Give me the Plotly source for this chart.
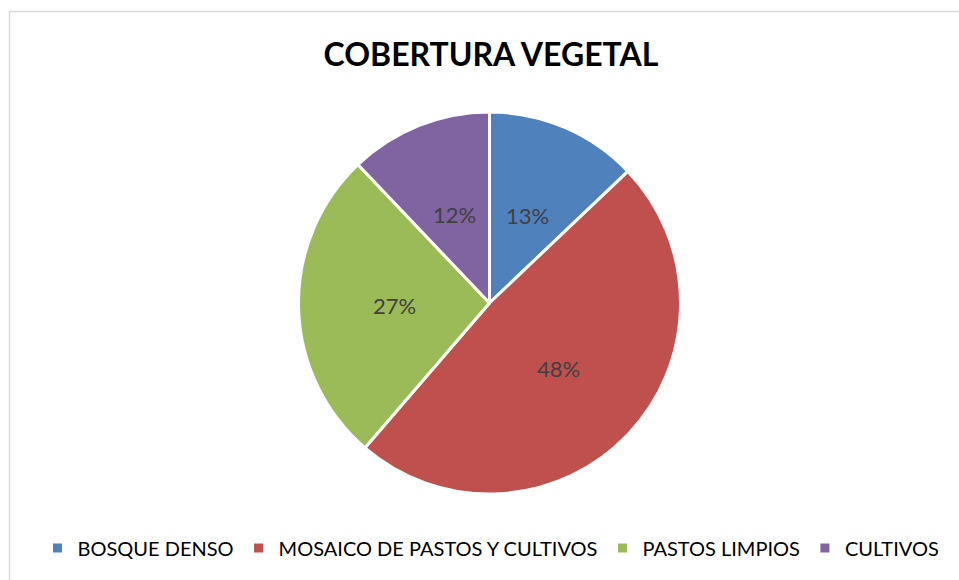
import math
import plotly.graph_objects as go

categories = ["BOSQUE DENSO", "MOSAICO DE PASTOS Y CULTIVOS", "PASTOS LIMPIOS", "CULTIVOS"]
values = [12.9, 48.4, 26.6, 12.1]
colors = ["#4F81BD", "#C0504D", "#9BBB59", "#8064A2"]

W, H = 959, 580
cx, cy, R = 489.5, 303, 191
label_r = 0.5  # fraction of radius where Excel-style labels sit

dom_x = [(cx - R) / W, (cx + R) / W]
dom_y = [1 - (cy + R) / H, 1 - (cy - R) / H]

fig = go.Figure(go.Pie(
    labels=categories,
    values=values,
    sort=False,
    direction="clockwise",
    rotation=0,
    marker=dict(colors=colors, line=dict(color="white", width=3)),
    textinfo="none",
    hoverinfo="label+percent",
    domain=dict(x=dom_x, y=dom_y),
))

# data labels at half radius along each slice's mid angle (computed from values)
total = sum(values)
annotations = []
cum = 0.0
for v in values:
    mid = (cum + v / 2) / total * 2 * math.pi
    cum += v
    px = cx + label_r * R * math.sin(mid)
    py = cy - label_r * R * math.cos(mid)
    annotations.append(dict(
        x=px / W, y=1 - py / H, xref="paper", yref="paper",
        text=f"{round(v / total * 100)}%", showarrow=False,
        xanchor="center", yanchor="middle",
        font=dict(family="Lato", size=22, color="#404040"),
    ))

fig.update_layout(
    width=W, height=H,
    margin=dict(l=0, r=0, t=0, b=0),
    paper_bgcolor="white",
    title=dict(text="<b>COBERTURA VEGETAL</b>", x=491 / W, xanchor="center", y=1 - 55 / H, yanchor="middle",
               font=dict(family="Lato", size=32, color="black")),
    legend=dict(orientation="h", x=491 / W, xanchor="center", y=1 - 548 / H, yanchor="middle",
                font=dict(family="Lato", size=20, color="black"), itemwidth=30,
                traceorder="normal"),
    annotations=annotations,
    shapes=[dict(type="rect", xref="paper", yref="paper", x0=9.5 / W, y0=-0.1, x1=1.1, y1=1 - 11.5 / H,
                 line=dict(color="#D9D9D9", width=1.5))],
)

fig.write_html("out.html")
